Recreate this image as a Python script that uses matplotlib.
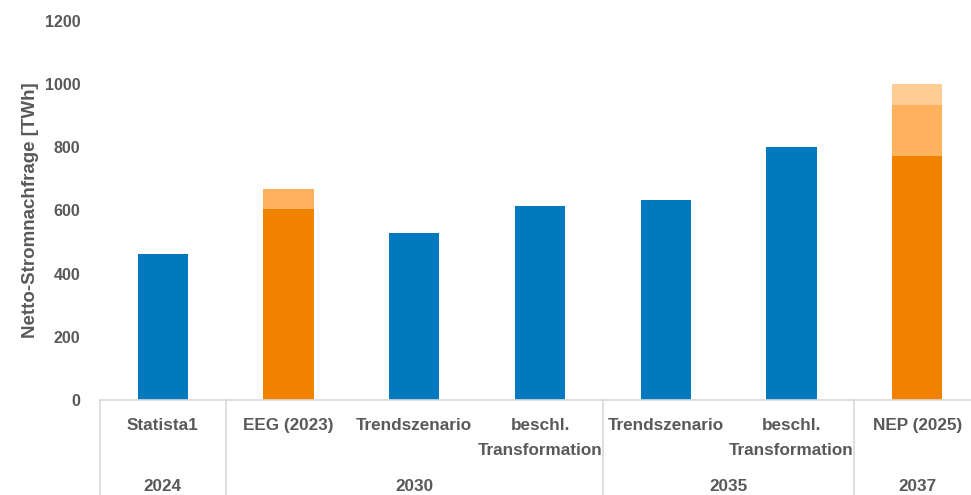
import matplotlib
matplotlib.use("Agg")
import numpy as np
from matplotlib import pyplot as plt

# data
categories = ['Statista1', 'EEG (2023)', 'Trendszenario', 'beschl.\nTransformation',
              'Trendszenario', 'beschl.\nTransformation', 'NEP (2025)']
years = ['2024', '2030', '2035', '2037']
year_sizes = [1, 3, 2, 1]
base = [462, 606, 528, 614, 633, 801, 771]
extra1 = [0, 63, 0, 0, 0, 0, 164]
extra2 = [0, 0, 0, 0, 0, 0, 65]
is_orange = [False, True, False, False, False, False, True]

BLUE = '#0079BE'
ORANGE = '#F08200'
ORANGE_MID = '#FFB25E'
ORANGE_LIGHT = '#FFCD93'
TEXT = '#595959'
LINE = '#D9D9D9'

plt.rcParams['font.family'] = ['Liberation Sans', 'DejaVu Sans']

fig = plt.figure(figsize=(9.71, 4.95), dpi=100)
ax = fig.add_axes([100 / 971, 95 / 495, 880 / 971, 379 / 495])

x = np.arange(len(categories))
w = 0.4
base = np.array(base)
extra1 = np.array(extra1)
extra2 = np.array(extra2)
colors = [ORANGE if o else BLUE for o in is_orange]

ax.bar(x, base, width=w, color=colors)
ax.bar(x, extra1, width=w, bottom=base, color=ORANGE_MID)
ax.bar(x, extra2, width=w, bottom=base + extra1, color=ORANGE_LIGHT)

ax.set_xlim(-0.5, len(categories) - 0.5)
ax.set_ylim(0, 1200)
ax.set_yticks(range(0, 1201, 200))
ax.tick_params(axis='y', length=0, pad=14, labelsize=11.5, labelcolor=TEXT)
for lbl in ax.get_yticklabels():
    lbl.set_fontweight('bold')
ax.set_xticks([])
for s in ['top', 'right', 'left']:
    ax.spines[s].set_visible(False)
ax.spines['bottom'].set_color(LINE)
ax.spines['bottom'].set_linewidth(1.2)

ax.set_ylabel('Netto-Stromnachfrage [TWh]', fontsize=13.5, fontweight='bold',
              color=TEXT, labelpad=4)

# category labels
for xi, cat in zip(x, categories):
    ax.annotate(cat, xy=(xi, 0), xycoords=('data', 'axes fraction'),
                xytext=(0, -13), textcoords='offset points',
                ha='center', va='top', fontsize=12.3, fontweight='bold',
                color=TEXT, linespacing=1.85, annotation_clip=False)

# year group labels and separators
start = -0.5
bounds = [start]
for yr, n in zip(years, year_sizes):
    mid = start + n / 2
    ax.annotate(yr, xy=(mid, 0), xycoords=('data', 'axes fraction'),
                xytext=(0, -62), textcoords='offset points',
                ha='center', va='center', fontsize=12.3, fontweight='bold',
                color=TEXT, annotation_clip=False)
    start += n
    bounds.append(start)

trans = ax.get_xaxis_transform()
for b in bounds:
    ax.plot([b, b], [0, -0.26], transform=trans, color=LINE, lw=1.2,
            clip_on=False)

fig.savefig('out.png', dpi=100)
